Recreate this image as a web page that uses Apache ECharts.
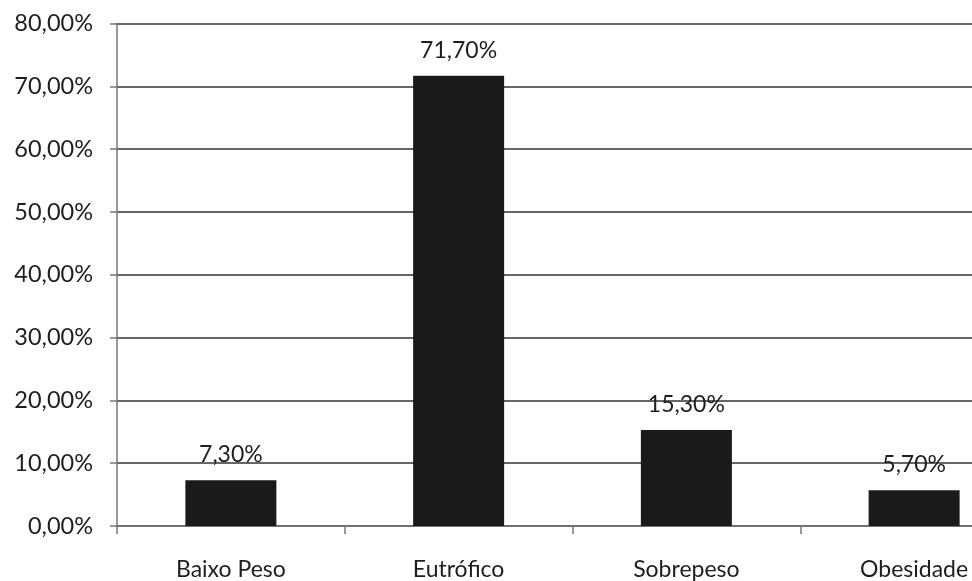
<!DOCTYPE html>
<html>
<head>
<meta charset="utf-8">
<script src="https://cdn.jsdelivr.net/npm/echarts@6/dist/echarts.min.js"></script>
<style>
  html, body { margin: 0; padding: 0; background: #fff; overflow: hidden; }
  #chart { width: 1028px; height: 581px; }
</style>
</head>
<body>
<div id="chart"></div>
<script>
const categories = ['Baixo Peso', 'Eutrófico', 'Sobrepeso', 'Obesidade'];
const values = [7.3, 71.7, 15.3, 5.7];
const yMin = 0;
const yMax = 80;
const yStep = 10;

const fmt = (v) => v.toFixed(2).replace('.', ',') + '%';

// chart is wider than the window on purpose: the original is cut off at the right edge
const chart = echarts.init(document.getElementById('chart'));
chart.setOption({
    animation: false,
    textStyle: { fontFamily: 'Lato, "Open Sans", sans-serif' },
    grid: { left: 117, right: 0, top: 23.5, bottom: 52, containLabel: false },
    xAxis: {
        type: 'category',
        data: categories,
        axisLine: { lineStyle: { color: '#777', width: 1.5 } },
        axisTick: { show: true, length: 8, lineStyle: { color: '#777', width: 1.5 } },
        axisLabel: { color: '#1e1e1e', fontSize: 23, margin: 32 }
    },
    yAxis: {
        type: 'value',
        min: yMin,
        max: yMax,
        interval: yStep,
        axisLine: { show: true, lineStyle: { color: '#777', width: 1.5 } },
        axisTick: { show: true, length: 7, lineStyle: { color: '#777', width: 1.5 } },
        axisLabel: { color: '#1e1e1e', fontSize: 23.5, margin: 24, formatter: fmt },
        splitLine: { lineStyle: { color: '#333', width: 1.5 } }
    },
    series: [{
        type: 'bar',
        data: values,
        barWidth: 91,
        itemStyle: { color: '#1a1a1a' },
        label: {
            show: true,
            position: 'top',
            distance: 14,
            color: '#1e1e1e',
            fontSize: 23,
            formatter: (p) => fmt(p.value)
        }
    }]
});
</script>
</body>
</html>
